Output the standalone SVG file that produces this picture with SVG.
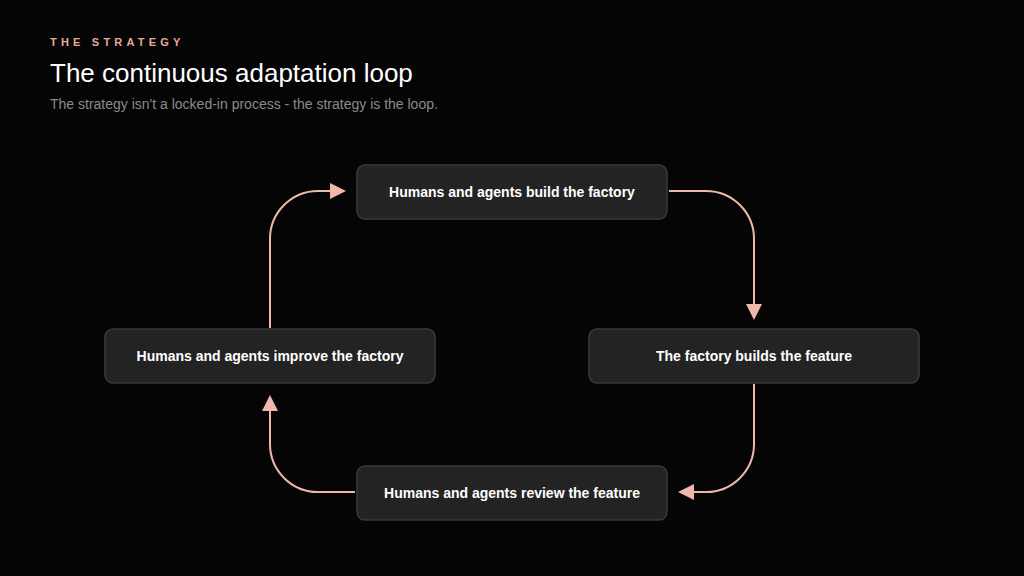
<svg xmlns="http://www.w3.org/2000/svg" width="1024" height="576" viewBox="0 0 1024 576">
  <style>
    .node rect { fill: #232323; stroke: #3a3a3a; stroke-width: 1.5; }
    .node text { fill: #ffffff; font-family: "Liberation Sans", Arial, sans-serif; font-size: 14px; font-weight: bold; text-anchor: middle; }
    .edge { fill: none; stroke: #f0b8ab; stroke-width: 2; }
  </style>
  <defs>
    <marker id="arrow" markerUnits="userSpaceOnUse" markerWidth="18" markerHeight="18" refX="0" refY="8" orient="auto" viewBox="0 0 18 16">
      <path d="M0,0 L16,8 L0,16 Z" fill="#f0b8ab"/>
    </marker>
  </defs>
  <rect width="1024" height="576" fill="#050505"/>
  <g id="header">
    <text x="50" y="46" fill="#eaa898" font-family="Liberation Sans, Arial, sans-serif" font-size="11" font-weight="bold" letter-spacing="4.2">THE STRATEGY</text>
    <text x="50" y="82" fill="#ffffff" font-family="Liberation Sans, Arial, sans-serif" font-size="26">The continuous adaptation loop</text>
    <text x="50" y="109" fill="#8a8a8a" font-family="Liberation Sans, Arial, sans-serif" font-size="14">The strategy isn't a locked-in process - the strategy is the loop.</text>
  </g>
  <g id="connectors">
    <path class="edge" d="M669,191 H706 A48 48 0 0 1 754 239 V304" marker-end="url(#arrow)"/>
    <path class="edge" d="M754,384 V444 A48 48 0 0 1 706 492 H694" marker-end="url(#arrow)"/>
    <path class="edge" d="M355,492 H318 A48 48 0 0 1 270 444 V411" marker-end="url(#arrow)"/>
    <path class="edge" d="M270,328 V239 A48 48 0 0 1 318 191 H330" marker-end="url(#arrow)"/>
  </g>
  <g id="node-build" class="node">
    <rect x="357" y="165" width="310" height="54" rx="8"/>
    <text x="512" y="197">Humans and agents build the factory</text>
  </g>
  <g id="node-feature" class="node">
    <rect x="589" y="329" width="330" height="54" rx="8"/>
    <text x="754" y="361">The factory builds the feature</text>
  </g>
  <g id="node-review" class="node">
    <rect x="357" y="466" width="310" height="54" rx="8"/>
    <text x="512" y="498">Humans and agents review the feature</text>
  </g>
  <g id="node-improve" class="node">
    <rect x="105" y="329" width="330" height="54" rx="8"/>
    <text x="270" y="361">Humans and agents improve the factory</text>
  </g>
</svg>
